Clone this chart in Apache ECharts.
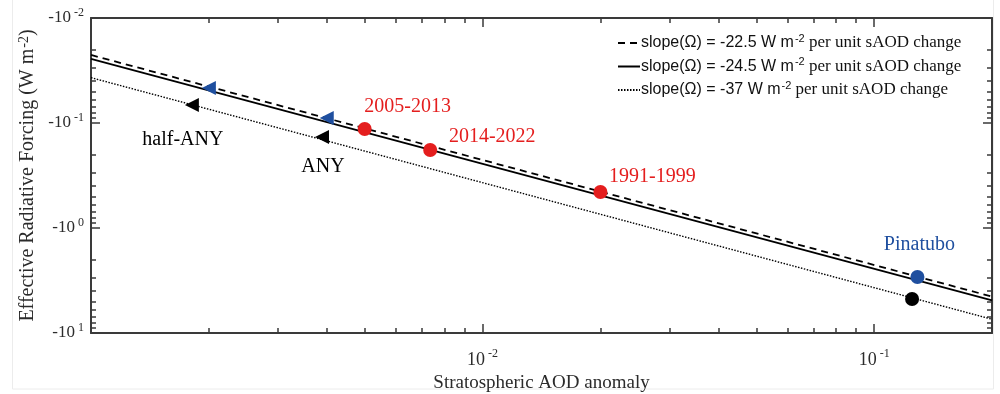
<!DOCTYPE html>
<html>
<head>
<meta charset="utf-8">
<script src="https://cdn.jsdelivr.net/npm/echarts@6/dist/echarts.min.js"></script>
<style>
  html, body { margin: 0; padding: 0; background: #fff; }
  #chart { width: 1000px; height: 394px; }
</style>
</head>
<body>
<div id="chart"></div>
<script>
// reference lines (magnitude of ERF at the two ends of the AOD range)
const lineAOD = [0.001, 0.2]
const dashedERF = [0.0225, 4.5]   // slope -22.5
const solidERF = [0.0245, 4.9]    // slope -24.5
const dottedERF = [0.037, 7.4]    // slope -37

// observed periods (red)
const periodNames = ['2005-2013', '2014-2022', '1991-1999']
const periodAOD = [0.005, 0.00735, 0.02]
const periodERF = [0.114, 0.181, 0.454]

// scenarios, blue triangles and black triangles
const blueTriAOD = [0.002, 0.004]
const blueTriERF = [0.0465, 0.0895]
const blackTriNames = ['half-ANY', 'ANY']
const blackTriAOD = [0.00181, 0.00389]
const blackTriERF = [0.0675, 0.136]

// Pinatubo
const pinatuboAOD = [0.129]
const pinatuboERF = [2.93]
const pinatuboBlackAOD = [0.125]
const pinatuboBlackERF = [4.74]

// tick values
const xMajor = [0.01, 0.1]
const xMinor = [0.002, 0.003, 0.004, 0.005, 0.006, 0.007, 0.008, 0.009,
  0.02, 0.03, 0.04, 0.05, 0.06, 0.07, 0.08, 0.09, 0.2]
const yMajor = [0.01, 0.1, 1, 10]
const yMinor = [0.02, 0.03, 0.04, 0.05, 0.06, 0.07, 0.08, 0.09,
  0.2, 0.3, 0.4, 0.5, 0.6, 0.7, 0.8, 0.9,
  2, 3, 4, 5, 6, 7, 8, 9]

const legendNames = ['slope -22.5', 'slope -24.5', 'slope -37']
const legendValues = ['-22.5', '-24.5', '-37']

// label offsets (px) relative to the marker
const labelOffsets = {
  '2005-2013': [43, -22],
  '2014-2022': [62, -13],
  '1991-1999': [52, -15],
  'half-ANY': [-9, 35],
  'ANY': [1, 30],
  'Pinatubo': [2, -32]
}

const axisColor = '#3a3a3a'
const textColor = '#2b2b2b'
const serif = '"Liberation Serif", "DejaVu Serif", serif'
const sans = '"Liberation Sans", Arial, sans-serif'
const red = '#e41e1e'
const blue = '#1f4f9f'

const pairs = (xs, ys) => xs.map((x, i) => [x, ys[i]])
const exp = v => Math.round(Math.log10(v))

function supRich(size) {
  return {
    b: { fontFamily: serif, fontSize: size, color: textColor, lineHeight: size + 6 },
    s: { fontFamily: serif, fontSize: Math.round(size * 0.68), color: textColor, verticalAlign: 'top', padding: [0, 0, 7, 3] }
  }
}

function baseAxis(extra) {
  return Object.assign({
    type: 'log',
    logBase: 10,
    axisLine: { show: true, onZero: false, lineStyle: { color: axisColor, width: 2 } },
    splitLine: { show: false },
    minorTick: { show: false },
    minorSplitLine: { show: false }
  }, extra)
}

function minorAxis(extra, values) {
  return baseAxis(Object.assign({
    axisLine: { show: false },
    axisLabel: { show: false },
    axisTick: { show: true, inside: true, length: 5, customValues: values, lineStyle: { color: axisColor, width: 1.5 } }
  }, extra))
}

function majorTick(values) {
  return { show: true, inside: true, length: 9, customValues: values, lineStyle: { color: axisColor, width: 1.5 } }
}

const xRange = { min: 0.001, max: 0.2 }
const yRange = { min: 0.01, max: 10, inverse: true }

function labelled(name, color) {
  return {
    show: true,
    position: 'inside',
    offset: labelOffsets[name] || [0, 0],
    formatter: name,
    fontFamily: serif,
    fontSize: 20,
    color: color,
    opacity: 1
  }
}

const chart = echarts.init(document.getElementById('chart'))

chart.setOption({
  backgroundColor: '#fff',
  animation: false,
  grid: { left: 91, right: 8, top: 18, bottom: 61, containLabel: false, outerBoundsMode: 'none' },
  xAxis: [
    baseAxis(Object.assign({
      position: 'bottom',
      name: 'Stratospheric AOD anomaly',
      nameLocation: 'middle',
      nameGap: 37,
      nameTextStyle: { fontFamily: serif, fontSize: 19, color: textColor },
      axisTick: majorTick(xMajor),
      axisLabel: {
        customValues: xMajor,
        margin: 15,
        formatter: v => '{b|10}{s|' + exp(v) + '}',
        rich: supRich(18)
      }
    }, xRange)),
    minorAxis(Object.assign({ position: 'bottom' }, xRange), xMinor),
    baseAxis(Object.assign({
      position: 'top',
      axisTick: majorTick(xMajor),
      axisLabel: { show: false }
    }, xRange)),
    minorAxis(Object.assign({ position: 'top' }, xRange), xMinor)
  ],
  yAxis: [
    baseAxis(Object.assign({
      position: 'left',
      name: 'Effective Radiative Forcing (W m{s|-2})',
      nameLocation: 'middle',
      nameGap: 51,
      nameRotate: 90,
      nameTextStyle: {
        fontFamily: serif, fontSize: 20, color: textColor,
        rich: { s: { fontFamily: serif, fontSize: 14, color: textColor, verticalAlign: 'top', padding: [0, 0, 6, 1] } }
      },
      axisTick: majorTick(yMajor),
      axisLabel: {
        customValues: yMajor,
        margin: 7,
        formatter: v => '{b|-10}{s|' + exp(v) + '}',
        rich: supRich(17)
      }
    }, yRange)),
    minorAxis(Object.assign({ position: 'left' }, yRange), yMinor),
    baseAxis(Object.assign({
      position: 'right',
      axisTick: majorTick(yMajor),
      axisLabel: { show: false }
    }, yRange)),
    minorAxis(Object.assign({ position: 'right' }, yRange), yMinor)
  ],
  legend: {
    show: true,
    orient: 'vertical',
    left: 612,
    top: 28,
    itemWidth: 22,
    itemHeight: 10,
    itemGap: 5,
    itemStyle: { opacity: 0 },
    data: legendNames,
    formatter: name => {
      const v = legendValues[legendNames.indexOf(name)]
      return '{a|slope(Ω) = ' + v + ' W m}{s|-2}{b| per unit sAOD change}'
    },
    textStyle: {
      padding: [0, 0, 0, -4],
      rich: {
        a: { fontFamily: sans, fontSize: 16, color: '#111', lineHeight: 20 },
        s: { fontFamily: sans, fontSize: 11, color: '#111', verticalAlign: 'top', padding: [0, 0, 4, 1] },
        b: { fontFamily: serif, fontSize: 17, color: '#111' }
      }
    }
  },
  series: [
    {
      name: legendNames[0], type: 'line', symbol: 'none', silent: true, z: 2,
      data: pairs(lineAOD, dashedERF),
      lineStyle: { color: '#000', width: 1.8, type: [7, 5] },
      itemStyle: { color: '#000' }
    },
    {
      name: legendNames[1], type: 'line', symbol: 'none', silent: true, z: 2,
      data: pairs(lineAOD, solidERF),
      lineStyle: { color: '#000', width: 1.8, type: 'solid' },
      itemStyle: { color: '#000' }
    },
    {
      name: legendNames[2], type: 'line', symbol: 'none', silent: true, z: 2,
      data: pairs(lineAOD, dottedERF),
      lineStyle: { color: '#000', width: 1.4, type: [1.5, 1.5] },
      itemStyle: { color: '#000' }
    },
    {
      name: 'periods', type: 'scatter', symbol: 'circle', symbolSize: 14, z: 5,
      itemStyle: { color: red, opacity: 1 },
      data: periodAOD.map((x, i) => ({
        value: [x, periodERF[i]],
        label: labelled(periodNames[i], red)
      }))
    },
    {
      name: 'blue triangles', type: 'scatter', symbol: 'triangle', symbolRotate: 90, symbolSize: 14, z: 5,
      itemStyle: { color: blue, opacity: 1 },
      data: pairs(blueTriAOD, blueTriERF)
    },
    {
      name: 'black triangles', type: 'scatter', symbol: 'triangle', symbolRotate: 90, symbolSize: 14, z: 5,
      itemStyle: { color: '#000', opacity: 1 },
      data: blackTriAOD.map((x, i) => ({
        value: [x, blackTriERF[i]],
        label: labelled(blackTriNames[i], '#000')
      }))
    },
    {
      name: 'Pinatubo', type: 'scatter', symbol: 'circle', symbolSize: 14, z: 5,
      itemStyle: { color: blue, opacity: 1 },
      data: pinatuboAOD.map((x, i) => ({
        value: [x, pinatuboERF[i]],
        label: labelled('Pinatubo', blue)
      }))
    },
    {
      name: 'Pinatubo black', type: 'scatter', symbol: 'circle', symbolSize: 14, z: 5,
      itemStyle: { color: '#000', opacity: 1 },
      data: pairs(pinatuboBlackAOD, pinatuboBlackERF)
    }
  ],
  graphic: [
    {
      type: 'rect', silent: true, z: -1,
      shape: { x: 12.5, y: -2, width: 981, height: 391 },
      style: { fill: 'none', stroke: '#ececec', lineWidth: 1 }
    }
  ]
})
</script>
</body>
</html>
